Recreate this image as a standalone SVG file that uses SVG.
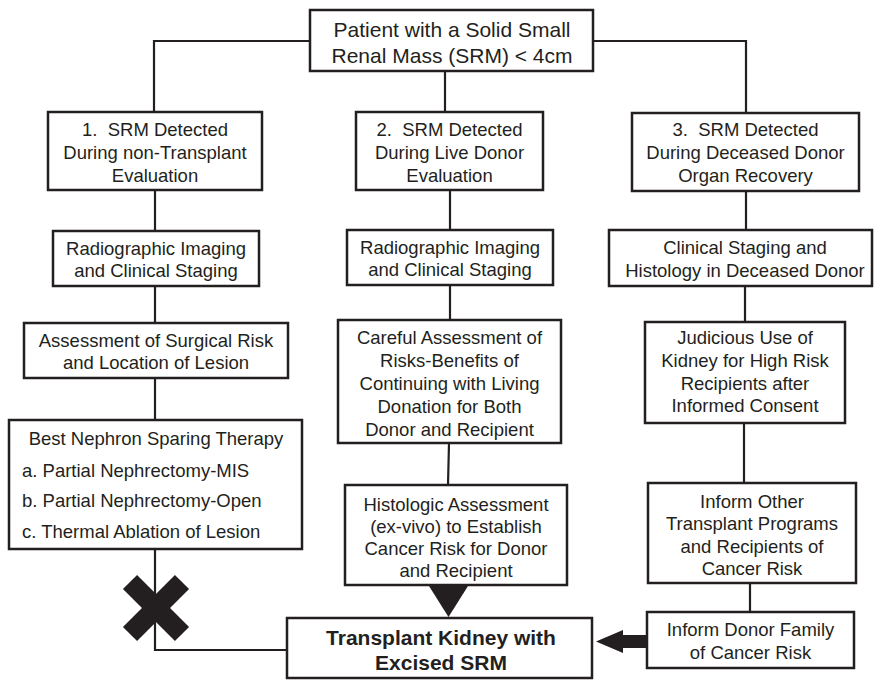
<svg xmlns="http://www.w3.org/2000/svg" width="874" height="680" viewBox="0 0 874 680">
<style>
.box{fill:#fff;stroke:#231f20;stroke-width:2.5}
.ln{fill:none;stroke:#231f20;stroke-width:2.2}
text{font-family:"Liberation Sans",Arial,sans-serif;font-size:18.5px;fill:#231f20;text-anchor:middle}
.big{font-size:21px}
.bold{font-size:21px;font-weight:bold}
.left{text-anchor:start}
</style>
<rect width="874" height="680" fill="#fff"/>
<g id="connectors">
<path class="ln" d="M310 41 H154 V112"/>
<path class="ln" d="M593 41 H746 V113"/>
<path class="ln" d="M445 71 V112"/>
<path class="ln" d="M155 190 V231"/>
<path class="ln" d="M155 286 V323"/>
<path class="ln" d="M155 378 V420"/>
<path class="ln" d="M155 549 V650 H287"/>
<path class="ln" d="M450 190 V230"/>
<path class="ln" d="M450 285 V320"/>
<path class="ln" d="M449 443 L448 485"/>
<path class="ln" d="M746 191 V230"/>
<path class="ln" d="M745 286 V322"/>
<path class="ln" d="M744 423 V483"/>
<path class="ln" d="M750 583 V612"/>
<polygon points="429,586 468,586 448.5,617" fill="#231f20"/>
<polygon points="647,635 623,635 623,630 596,641.5 623,653 623,648 647,648" fill="#231f20"/>
<g id="cross" stroke="#231f20" stroke-width="20">
<line x1="130" y1="582" x2="182" y2="634"/>
<line x1="182" y1="582" x2="130" y2="634"/>
</g>
</g>
<g id="n0">
<rect class="box" x="310" y="10" width="283" height="61"/>
<text class="big" x="452" y="37">Patient with a Solid Small</text>
<text class="big" x="452" y="63">Renal Mass (SRM) &lt; 4cm</text>
</g>
<g id="n1">
<rect class="box" x="48" y="112" width="214" height="78"/>
<text x="155" y="136" xml:space="preserve">1.  SRM Detected</text>
<text x="155" y="159">During non-Transplant</text>
<text x="155" y="182">Evaluation</text>
</g>
<g id="n2">
<rect class="box" x="53" y="231" width="206" height="55"/>
<text x="156" y="255">Radiographic Imaging</text>
<text x="156" y="277">and Clinical Staging</text>
</g>
<g id="n3">
<rect class="box" x="24" y="323" width="264" height="55"/>
<text x="156" y="347">Assessment of Surgical Risk</text>
<text x="156" y="369">and Location of Lesion</text>
</g>
<g id="n4">
<rect class="box" x="9" y="420" width="293" height="129"/>
<text x="156" y="445">Best Nephron Sparing Therapy</text>
<text class="left" x="22" y="477">a. Partial Nephrectomy-MIS</text>
<text class="left" x="22" y="507">b. Partial Nephrectomy-Open</text>
<text class="left" x="22" y="538">c. Thermal Ablation of Lesion</text>
</g>
<g id="n5">
<rect class="box" x="356" y="112" width="187" height="78"/>
<text x="449.5" y="136" xml:space="preserve">2.  SRM Detected</text>
<text x="449.5" y="159">During Live Donor</text>
<text x="449.5" y="182">Evaluation</text>
</g>
<g id="n6">
<rect class="box" x="347" y="230" width="206" height="55"/>
<text x="450" y="254">Radiographic Imaging</text>
<text x="450" y="276">and Clinical Staging</text>
</g>
<g id="n7">
<rect class="box" x="338" y="320" width="223" height="123"/>
<text x="449.5" y="344">Careful Assessment of</text>
<text x="449.5" y="367">Risks-Benefits of</text>
<text x="449.5" y="390">Continuing with Living</text>
<text x="449.5" y="413">Donation for Both</text>
<text x="449.5" y="436">Donor and Recipient</text>
</g>
<g id="n8">
<rect class="box" x="345" y="485" width="222" height="100"/>
<text x="456" y="511">Histologic Assessment</text>
<text x="456" y="533">(ex-vivo) to Establish</text>
<text x="456" y="555">Cancer Risk for Donor</text>
<text x="456" y="577">and Recipient</text>
</g>
<g id="n9">
<rect class="box" x="632" y="113" width="227" height="78"/>
<text x="745.5" y="136" xml:space="preserve">3.  SRM Detected</text>
<text x="745.5" y="159">During Deceased Donor</text>
<text x="745.5" y="182">Organ Recovery</text>
</g>
<g id="n10">
<rect class="box" x="609" y="230" width="263" height="56"/>
<text x="745" y="254">Clinical Staging and</text>
<text x="745" y="277">Histology in Deceased Donor</text>
</g>
<g id="n11">
<rect class="box" x="645" y="322" width="200" height="101"/>
<text x="745" y="344">Judicious Use of</text>
<text x="745" y="367">Kidney for High Risk</text>
<text x="745" y="390">Recipients after</text>
<text x="745" y="412">Informed Consent</text>
</g>
<g id="n12">
<rect class="box" x="648" y="483" width="208" height="100"/>
<text x="752" y="508">Inform Other</text>
<text x="752" y="530">Transplant Programs</text>
<text x="752" y="553">and Recipients of</text>
<text x="752" y="575">Cancer Risk</text>
</g>
<g id="n13">
<rect class="box" x="647" y="612" width="207" height="56"/>
<text x="750.5" y="636">Inform Donor Family</text>
<text x="750.5" y="659">of Cancer Risk</text>
</g>
<g id="n14">
<rect class="box" x="287" y="618" width="305" height="60"/>
<text class="bold" x="441" y="645">Transplant Kidney with</text>
<text class="bold" x="441" y="670">Excised SRM</text>
</g>
</svg>
